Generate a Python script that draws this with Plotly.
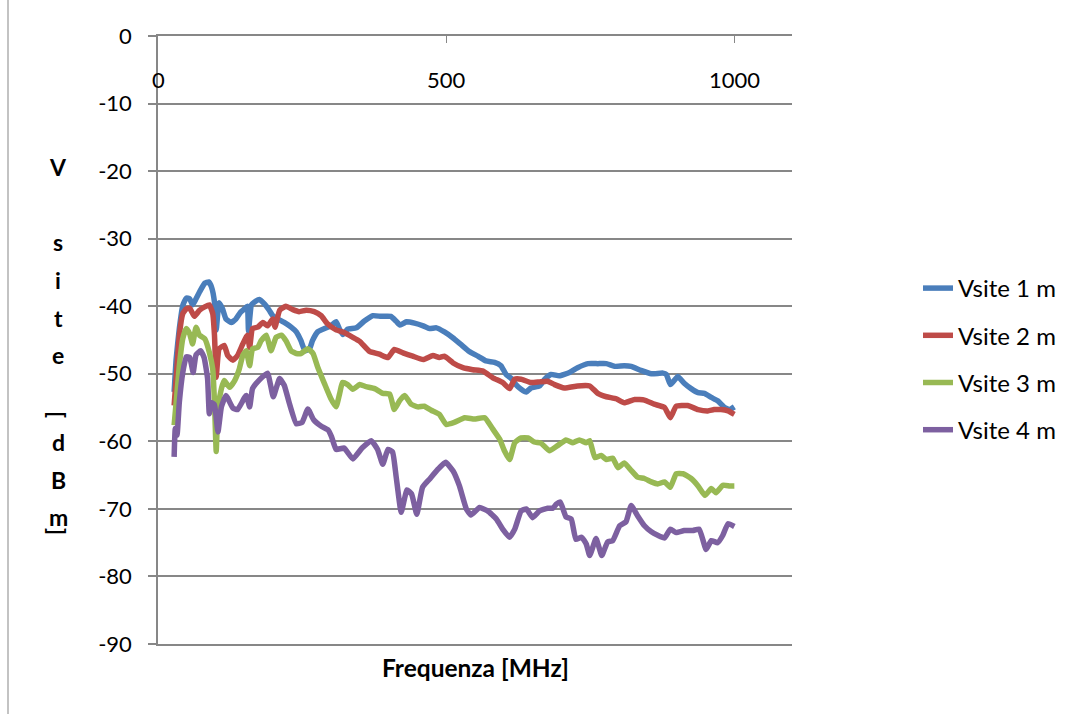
import plotly.graph_objects as go

# --- measured site attenuation, frequency in MHz, level in dBm ---
freq_1m = [28, 31.5, 37, 43, 49, 55, 60, 66, 72, 81, 88, 93, 98, 101, 106, 112, 118, 127, 135, 143,
           150, 155, 157, 162, 167, 176, 185, 193, 199, 208, 219, 231, 240, 248, 255, 263, 268, 277,
           289, 300, 309, 315, 321, 329, 344, 358, 373, 387, 404, 413, 420, 431, 445, 460, 471, 483,
           497, 512, 526, 540, 555, 569, 584, 595, 604, 613, 621, 630, 639, 647, 662, 671, 682, 696,
           714, 728, 746, 763, 778, 792, 809, 821, 838, 856, 876, 882, 889, 902, 913, 925, 937, 948,
           960, 971, 983, 992, 1000]
vsite_1m = [-52.7, -47.8, -43.3, -39.9, -38.8, -38.9, -39.8, -38.9, -37.9, -36.6, -36.4, -37.2, -39.4,
            -43.5, -39.5, -40.4, -41.9, -42.4, -41.9, -40.9, -40.4, -40.0, -43.7, -39.8, -39.4, -39.0,
            -39.7, -40.6, -41.4, -41.9, -42.4, -43.1, -43.8, -45.1, -46.6, -46.3, -45.1, -43.8, -43.3,
            -42.9, -42.3, -43.4, -44.2, -43.4, -43.2, -42.2, -41.4, -41.5, -41.5, -42.2, -42.8, -42.3,
            -42.5, -42.9, -43.3, -43.2, -43.8, -44.7, -45.7, -46.7, -47.4, -48.1, -48.3, -48.8, -50.1,
            -50.7, -51.6, -52.3, -52.7, -52.1, -51.8, -50.8, -50.1, -50.3, -49.8, -49.1, -48.5, -48.5,
            -48.5, -48.9, -48.8, -48.9, -49.5, -50.0, -49.9, -50.1, -51.6, -50.4, -51.4, -52.2, -52.8,
            -52.9, -53.5, -54.0, -55.0, -55.3, -54.9]

freq_2m = [28, 31.5, 37, 43, 49, 55, 63, 72, 81, 89, 95, 98, 101, 106, 115, 121, 130, 138, 147, 155,
           159, 164, 173, 182, 190, 199, 203, 211, 222, 234, 245, 257, 271, 283, 294, 309, 323, 338,
           350, 367, 384, 399, 410, 425, 442, 460, 477, 488, 497, 512, 529, 546, 564, 581, 598, 610,
           619, 630, 647, 662, 676, 688, 705, 728, 749, 763, 778, 795, 809, 827, 844, 861, 879, 889,
           899, 919, 937, 954, 965, 977, 989, 1000]
vsite_2m = [-54.7, -50.7, -44.3, -41.1, -40.4, -40.3, -41.5, -40.6, -40.1, -39.8, -41.1, -44.3, -50.5,
            -46.3, -45.8, -47.3, -48.0, -47.3, -45.6, -44.3, -46.1, -43.3, -43.1, -42.4, -42.9, -41.9,
            -43.1, -40.6, -40.0, -40.5, -40.8, -40.6, -40.8, -41.4, -42.6, -43.5, -43.9, -44.6, -45.2,
            -46.7, -47.1, -47.6, -46.4, -46.9, -47.4, -47.9, -47.3, -47.6, -47.4, -48.4, -49.1, -49.4,
            -49.6, -50.6, -51.3, -52.2, -50.8, -50.8, -51.3, -51.2, -51.1, -51.6, -52.1, -51.8, -51.8,
            -52.9, -53.4, -53.7, -54.3, -53.8, -53.9, -54.5, -55.0, -56.5, -54.8, -54.7, -55.3, -55.5,
            -55.3, -55.3, -55.5, -56.0]

freq_3m = [28, 31.5, 37, 43, 49, 55, 60, 66, 72, 81, 89, 95, 98, 101, 104, 110, 115, 124, 133, 141,
           147, 153, 159, 164, 173, 179, 188, 196, 205, 214, 222, 231, 240, 248, 260, 269, 277, 289,
           300, 309, 315, 320, 329, 338, 350, 361, 376, 390, 402, 410, 419, 428, 439, 451, 462, 474,
           488, 500, 514, 532, 549, 567, 581, 593, 601, 610, 619, 630, 642, 653, 665, 679, 694, 708,
           720, 731, 743, 749, 758, 769, 778, 789, 798, 809, 821, 832, 844, 856, 867, 879, 889, 899,
           911, 925, 937, 949, 960, 968, 980, 992, 1000]
vsite_3m = [-57.6, -54.2, -48.8, -44.8, -43.3, -44.1, -45.6, -43.1, -44.3, -44.8, -46.8, -49.3, -54.2,
            -61.5, -55.2, -52.2, -51.0, -52.0, -51.0, -49.3, -47.3, -46.6, -48.8, -46.3, -46.1, -45.1,
            -44.3, -46.6, -44.6, -44.3, -45.1, -46.6, -47.0, -47.0, -46.3, -47.0, -49.0, -51.5, -53.7,
            -54.9, -53.0, -51.3, -51.6, -52.3, -51.6, -51.9, -52.2, -52.9, -53.0, -55.3, -54.0, -53.2,
            -54.5, -54.9, -54.8, -55.4, -56.0, -57.5, -57.2, -56.5, -56.7, -56.5, -58.2, -59.7, -61.4,
            -62.7, -60.2, -59.5, -59.5, -60.1, -60.3, -61.4, -60.6, -59.8, -60.2, -59.8, -60.2, -59.9,
            -62.4, -62.1, -62.7, -62.5, -63.9, -63.2, -64.3, -65.3, -65.5, -66.0, -66.3, -66.0, -66.8,
            -64.8, -64.8, -65.5, -66.6, -68.0, -67.0, -67.6, -66.5, -66.6, -66.6]

freq_4m = [28, 30, 33, 37, 43, 49, 55, 61, 66, 74, 80, 86, 89, 93, 98, 104, 110, 118, 130, 138, 153,
           159, 164, 176, 190, 200, 211, 219, 228, 240, 250, 260, 270, 284, 295, 301, 309, 323, 338,
           354, 370, 381, 390, 399, 407, 413, 422, 432, 440, 449, 459, 471, 486, 499, 512, 523, 535,
           543, 558, 572, 587, 598, 610, 619, 630, 639, 650, 662, 676, 685, 691, 698, 708, 717, 725,
           735, 743, 749, 760, 770, 780, 789, 801, 812, 821, 832, 844, 856, 867, 879, 889, 899, 913,
           928, 939, 951, 960, 971, 980, 989, 1000]
vsite_4m = [-62.3, -58.1, -59.1, -54.2, -49.8, -47.5, -47.6, -49.8, -47.2, -46.6, -47.6, -50.7, -55.9,
            -54.3, -54.6, -58.6, -54.9, -53.2, -55.1, -55.3, -53.2, -54.9, -52.2, -50.9, -49.9, -53.4,
            -50.7, -51.7, -54.4, -57.4, -57.2, -55.2, -56.8, -57.8, -58.3, -59.3, -61.2, -61.0, -62.6,
            -61.0, -59.9, -61.2, -63.4, -61.2, -61.6, -65.1, -70.5, -67.2, -67.8, -70.8, -66.8, -65.6,
            -64.1, -63.1, -64.4, -66.6, -70.0, -70.9, -69.8, -70.3, -71.5, -73.0, -74.2, -73.0, -70.3,
            -70.0, -71.3, -70.3, -69.9, -69.9, -69.3, -69.0, -71.2, -71.5, -74.5, -74.2, -75.2, -76.9,
            -74.4, -76.9, -74.9, -74.7, -72.5, -71.9, -69.5, -71.0, -72.5, -73.4, -73.9, -74.3, -73.0,
            -73.5, -73.2, -73.2, -73.0, -76.0, -74.7, -75.0, -73.9, -72.2, -72.6]

series_names = ["Vsite 1 m", "Vsite 2 m", "Vsite 3 m", "Vsite 4 m"]
series_colors = ["#4A7EBB", "#BE4B48", "#98B954", "#7D60A0"]
x_ticks = [0, 500, 1000]
y_ticks = list(range(-90, 1, 10))
y_tick_labels = [str(v) for v in y_ticks]
x_title = "Frequenza [MHz]"
y_title_chars = ["V", "s", "i", "t", "e", "[", "d", "B", "m", "]"]

FONT = "Lato"
GRID = "#878787"
W, H = 1083, 714
L, R, T, B = 158, 291, 36, 70
PW, PH = W - L - R, H - T - B


def px_x(px):
    return (px - L) / PW


def px_y(py):
    return (H - B - py) / PH


fig = go.Figure()
for i, (fx, vy) in enumerate([(freq_1m, vsite_1m), (freq_2m, vsite_2m),
                              (freq_3m, vsite_3m), (freq_4m, vsite_4m)]):
    fig.add_trace(go.Scatter(
        x=fx, y=vy, mode="lines", name=series_names[i],
        legendgroup=series_names[i],
        line=dict(color=series_colors[i], width=5.5, shape="spline", smoothing=0.4),
    ))

annotations = []
# x-axis crosses at 0 dBm (top edge); its labels sit just under that line
for xv in x_ticks:
    annotations.append(dict(
        text=str(xv), x=xv, y=px_y(79), xref="x", yref="paper",
        showarrow=False, xanchor="center", yanchor="middle",
        font=dict(family=FONT, size=22, color="black"),
    ))
# stacked y-axis title, one glyph per row; brackets are turned sideways
title_rows = [167, 242, 280, 318, 355, 414, 442, 480, 517, 531]
for ch, py in zip(y_title_chars, title_rows):
    annotations.append(dict(
        text=ch, x=px_x(58), y=px_y(py), xref="paper", yref="paper",
        showarrow=False, xanchor="center", yanchor="middle",
        textangle=90 if ch in "[]" else 0,
        font=dict(family=FONT, size=23, color="black", weight="bold"),
    ))
annotations.append(dict(
    text=x_title, x=px_x(475), y=px_y(667), xref="paper", yref="paper",
    showarrow=False, xanchor="center", yanchor="middle",
    font=dict(family=FONT, size=24.5, color="black", weight="bold"),
))

fig.update_layout(
    width=W, height=H, autosize=False,
    margin=dict(l=L, r=R, t=T, b=B, pad=0),
    paper_bgcolor="white", plot_bgcolor="white",
    font=dict(family=FONT, size=22, color="black"),
    xaxis=dict(
        range=[0, 1100], side="top", tickvals=x_ticks, showticklabels=False,
        ticks="inside", ticklen=7, tickcolor=GRID, tickwidth=1,
        showline=True, mirror=True, linecolor=GRID, linewidth=1.5,
        showgrid=False, zeroline=False,
    ),
    yaxis=dict(
        range=[-90, 0], tickvals=y_ticks, ticktext=y_tick_labels,
        ticks="outside", ticklen=8, tickcolor=GRID, tickwidth=1.5,
        ticklabelstandoff=12,
        showline=True, linecolor=GRID, linewidth=1.5,
        showgrid=True, gridcolor=GRID, gridwidth=1.5, zeroline=False,
        tickfont=dict(family=FONT, size=22),
    ),
    legend=dict(
        x=px_x(918), y=px_y(266), xanchor="left", yanchor="top",
        font=dict(family=FONT, size=24), tracegroupgap=13,
        bgcolor="rgba(0,0,0,0)",
    ),
    annotations=annotations,
    shapes=[dict(type="line", xref="paper", yref="paper",
                 x0=px_x(8), x1=px_x(8), y0=px_y(H + 2), y1=px_y(-2),
                 line=dict(color=GRID, width=1))],
)

fig.write_html("out.html")
